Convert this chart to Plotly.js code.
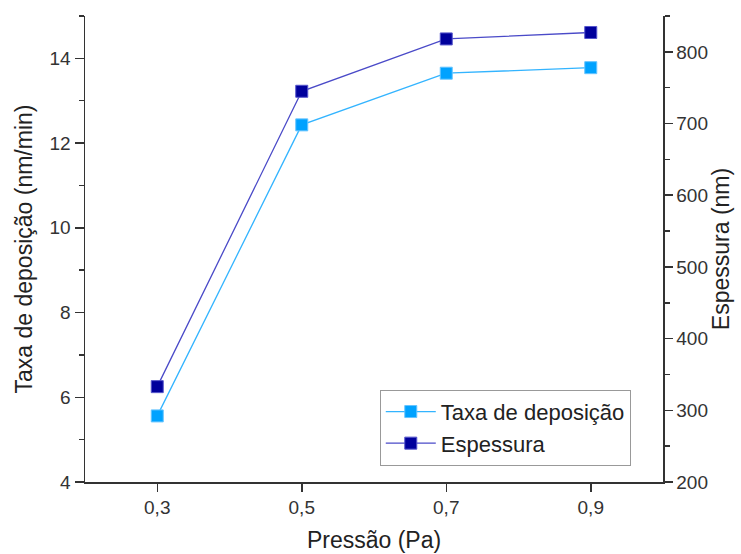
<!DOCTYPE html>
<html>
<head>
<meta charset="utf-8">
<script src="https://cdn.plot.ly/plotly-3.0.1.min.js"></script>
<style>html,body{margin:0;padding:0;background:#fff;}#chart{width:741px;height:554px;}</style>
</head>
<body>
<div id="chart"></div>
<script>
// Pressure (Pa) and the two measured quantities
const pressao = [0.3, 0.5, 0.7, 0.9];
const taxaDeposicao = [5.56, 12.43, 13.65, 13.78];   // nm/min
const espessura = [333, 745, 818, 827];               // nm
const xTickVals = [0.3, 0.5, 0.7, 0.9];
const xTickText = ['0,3', '0,5', '0,7', '0,9'];

const font = 'Liberation Sans, Arial, sans-serif';
const axisColor = '#333';
const tickFont = {family: font, size: 19, color: '#333'};
const titleFont = {family: font, size: 23, color: '#222'};

const traces = [
  {
    x: pressao, y: taxaDeposicao, name: 'Taxa de deposição',
    type: 'scatter', mode: 'lines+markers',
    line: {color: '#33B4FF', width: 1.3},
    marker: {symbol: 'square', size: 12, color: '#00A2FF', line: {color: '#66C4FF', width: 1}},
    xaxis: 'x', yaxis: 'y'
  },
  {
    x: pressao, y: espessura, name: 'Espessura',
    type: 'scatter', mode: 'lines+markers',
    line: {color: '#4A4AC8', width: 1.3},
    marker: {symbol: 'square', size: 12, color: '#00009C', line: {color: '#5555CC', width: 1}},
    xaxis: 'x', yaxis: 'y2'
  }
];

const layout = {
  width: 741, height: 554,
  margin: {l: 85, r: 78, t: 16, b: 72},
  paper_bgcolor: '#fff', plot_bgcolor: '#fff',
  font: {family: font, color: '#222'},
  showlegend: true,
  legend: {
    x: 0.51, y: 0.198, xanchor: 'left', yanchor: 'top',
    bgcolor: '#fff', bordercolor: '#999', borderwidth: 1,
    font: {family: font, size: 22, color: '#222'},
    tracegroupgap: 0, itemwidth: 50
  },
  xaxis: {
    range: [0.2, 1.0], tickvals: xTickVals, ticktext: xTickText,
    showgrid: false, zeroline: false,
    showline: true, linecolor: axisColor, linewidth: 1.5,
    ticks: 'outside', ticklen: 8, tickwidth: 1.5, tickcolor: axisColor,
    tickfont: tickFont,
    title: {text: 'Pressão (Pa)', font: titleFont, standoff: 14}
  },
  xaxis2: {
    overlaying: 'x', side: 'top', anchor: 'y',
    range: [0.2, 1.0], tickvals: xTickVals, showticklabels: false,
    showgrid: false, zeroline: false,
    showline: true, linecolor: axisColor, linewidth: 1.5,
    ticks: 'inside', ticklen: 7, tickwidth: 1.5, tickcolor: axisColor
  },
  yaxis: {
    range: [4, 15], dtick: 2, tick0: 4,
    showgrid: false, zeroline: false,
    showline: true, linecolor: axisColor, linewidth: 1.5,
    ticks: 'outside', ticklen: 9, tickwidth: 1.5, tickcolor: axisColor,
    minor: {dtick: 1, ticks: 'outside', ticklen: 5, tickwidth: 1.5, tickcolor: axisColor, showgrid: false},
    tickfont: tickFont,
    title: {text: 'Taxa de deposição (nm/min)', font: titleFont, standoff: 10}
  },
  yaxis2: {
    overlaying: 'y', side: 'right', anchor: 'x',
    range: [200, 850], dtick: 100, tick0: 200,
    showgrid: false, zeroline: false,
    showline: true, linecolor: axisColor, linewidth: 1.5,
    ticks: 'outside', ticklen: 8, tickwidth: 1.5, tickcolor: axisColor,
    minor: {dtick: 50, ticks: 'outside', ticklen: 5, tickwidth: 1.5, tickcolor: axisColor, showgrid: false},
    tickfont: tickFont,
    title: {text: 'Espessura (nm)', font: titleFont, standoff: 6}
  }
};

Plotly.newPlot('chart', traces, layout, {displayModeBar: false, staticPlot: true});
</script>
</body>
</html>
